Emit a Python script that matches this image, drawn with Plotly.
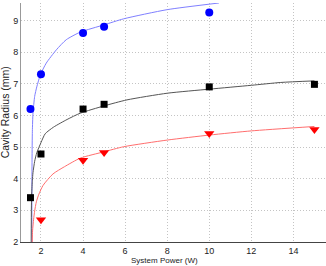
import plotly.graph_objects as go

# Measured data points
blue_x = [1.5, 2, 4, 5, 10]
blue_y = [6.2, 7.3, 8.6, 8.8, 9.25]
black_x = [1.5, 2, 4, 5, 10, 15]
black_y = [3.4, 4.78, 6.2, 6.35, 6.9, 6.98]
red_x = [2, 4, 5, 10, 15]
red_y = [2.7, 4.58, 4.83, 5.43, 5.55]

# Model curves
blue_cx = [1.565, 1.568, 1.575, 1.59, 1.62, 1.7, 1.8, 1.97, 2.25, 2.73, 3.2, 3.87, 5.0, 5.93, 8.0, 10.46]
blue_cy = [2.0, 3.5, 4.6, 5.5, 6.07, 6.6, 6.9, 7.28, 7.65, 8.07, 8.39, 8.63, 8.86, 9.05, 9.34, 9.55]
black_cx = [1.535, 1.545, 1.56, 1.59, 1.62, 1.7, 1.8, 2.0, 2.2, 2.6, 3.24, 3.87, 5.0, 6.09, 8.0, 10.03, 12.0, 13.4, 15.0]
black_cy = [2.0, 3.14, 3.55, 3.95, 4.19, 4.55, 4.82, 5.14, 5.42, 5.63, 5.87, 6.07, 6.3, 6.49, 6.7, 6.83, 6.95, 7.04, 7.09]
red_cx = [1.585, 1.6, 1.65, 1.7, 1.78, 1.9, 2.1, 2.57, 3.12, 3.87, 5.0, 5.93, 8.0, 10.03, 12.0, 15.0]
red_cy = [2.0, 2.35, 2.72, 2.98, 3.27, 3.51, 3.79, 4.15, 4.38, 4.65, 4.85, 5.01, 5.22, 5.38, 5.51, 5.65]

x_ticks = [2, 4, 6, 8, 10, 12, 14]
y_ticks = [2, 3, 4, 5, 6, 7, 8, 9]

FONT = "Liberation Sans, Arial, sans-serif"

fig = go.Figure()
fig.add_trace(go.Scatter(x=blue_cx, y=blue_cy, mode="lines", line=dict(color="#8080ff", width=1, shape="spline", smoothing=0.6)))
fig.add_trace(go.Scatter(x=black_cx, y=black_cy, mode="lines", line=dict(color="#555555", width=1, shape="spline", smoothing=0.6)))
fig.add_trace(go.Scatter(x=red_cx, y=red_cy, mode="lines", line=dict(color="#ff6e6e", width=1, shape="spline", smoothing=0.6)))
fig.add_trace(go.Scatter(x=blue_x, y=blue_y, mode="markers", marker=dict(symbol="circle", size=8, color="#0000ff")))
fig.add_trace(go.Scatter(x=black_x, y=black_y, mode="markers", marker=dict(symbol="square", size=7, color="#000000")))
fig.add_trace(go.Scatter(x=red_x, y=red_y, mode="markers", marker=dict(symbol="triangle-down", size=9, color="#ff0000")))

fig.update_layout(
    width=326, height=266,
    margin=dict(l=21, r=0, t=3, b=24),
    paper_bgcolor="white", plot_bgcolor="white",
    showlegend=False,
    font=dict(family=FONT, size=9, color="#222222"),
    xaxis=dict(range=[1.05, 15.55], tickvals=x_ticks, showgrid=True, gridcolor="#c4c4c4",
               griddash="1px,2px", gridwidth=1, zeroline=False, showline=True, linecolor="#444444",
               linewidth=1, ticks="", tickfont=dict(size=9)),
    yaxis=dict(range=[2, 9.55], tickvals=y_ticks, showgrid=True, gridcolor="#c4c4c4",
               griddash="1px,2px", gridwidth=1, zeroline=False, showline=True, linecolor="#999999",
               linewidth=1, ticks="", tickfont=dict(size=9)),
    annotations=[
        dict(text="System Power (W)", xref="paper", yref="paper", x=0.469, y=-0.078,
             xanchor="center", yanchor="middle", showarrow=False, font=dict(size=8, family=FONT)),
        dict(text="Cavity Radius (mm)", xref="paper", yref="paper", x=-0.052, y=0.543,
             xanchor="center", yanchor="middle", textangle=-90, showarrow=False,
             font=dict(size=10.5, family=FONT)),
    ],
)

fig.write_html("out.html", config={"displayModeBar": False},
               post_script="document.body.style.margin='0';document.body.style.padding='0';")
